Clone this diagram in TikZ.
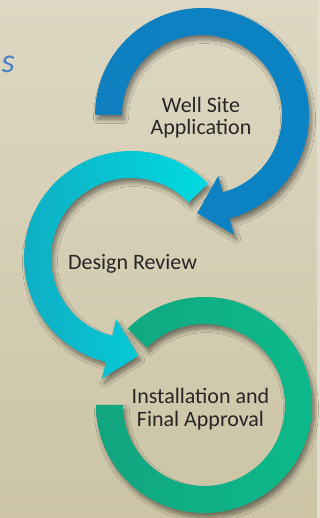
\documentclass[tikz,border=0pt]{standalone}
\usepackage{fontspec}
\setmainfont{Carlito}
\usetikzlibrary{calc,shadows.blur}
\definecolor{bgtop}{HTML}{DDD8C3}
\definecolor{bgbot}{HTML}{CCC4A5}
\definecolor{bgedge}{HTML}{E2DECD}
\definecolor{blueL}{HTML}{0F7FC0}
\definecolor{blueM}{HTML}{05A2E2}
\definecolor{blueR}{HTML}{0A84C4}
\definecolor{cyanL}{HTML}{10ACC2}
\definecolor{cyanR}{HTML}{00DAE2}
\definecolor{greenL}{HTML}{12A57F}
\definecolor{greenM}{HTML}{00D49B}
\definecolor{greenR}{HTML}{0CBA8A}
\definecolor{txt}{HTML}{262626}
\definecolor{titleblue}{HTML}{4A7EC8}
\begin{document}
\begin{tikzpicture}[x=1pt,y=1pt,
  ringshadow/.style={blur shadow={shadow xshift=2.5pt,shadow yshift=-4.5pt,shadow blur radius=4pt,shadow opacity=45,shadow blur steps=10}},
  lbl/.style={text=txt,align=center,font=\fontsize{22}{22.5}\selectfont,inner sep=0pt}]
\useasboundingbox (0,0) rectangle (320,518);
\fill[top color=bgtop,bottom color=bgbot] (0,0) rectangle (320,518);
\fill[bgedge] (317,0) rectangle (320,518);

\coordinate (cb) at (202,403);
\coordinate (cc) at (131,260);
\coordinate (cg) at (204,113);

% green ring
\path[ringshadow,left color=greenL,middle color=greenM,right color=greenR]
  ($(cg)+(180:108pt)$) arc[start angle=180,end angle=495,radius=108pt]
  -- ($(cg)+(135:81pt)$) arc[start angle=135,end angle=-180,radius=81pt] -- cycle;

% cyan ring with arrow
\path[ringshadow,left color=cyanL,right color=cyanR]
  ($(cc)+(44:107pt)$) arc[start angle=44,end angle=256.5,radius=107pt]
  -- ($(cc)+(256.5:124pt)$)
  -- ($(cc)+(256.5:93.5pt)+(346.5:30pt)$)
  -- ($(cc)+(256.5:63pt)$)
  -- ($(cc)+(256.5:80pt)$) arc[start angle=256.5,end angle=44,radius=80pt] -- cycle;

% blue ring with arrow
\path[ringshadow,left color=blueL,middle color=blueM,right color=blueR]
  ($(cb)+(180:107pt)$) arc[start angle=180,end angle=-75,radius=107pt]
  -- ($(cb)+(-75:124pt)$)
  -- ($(cb)+(-75:93.5pt)+(-165:30pt)$)
  -- ($(cb)+(-75:63pt)$)
  -- ($(cb)+(-75:80pt)$) arc[start angle=-75,end angle=180,radius=80pt] -- cycle;

\node[lbl] (t1) at (201,400.5) {Well Site\\Application};
\node[lbl] (t2) at (132.5,254) {Design Review};
\node[lbl] (t3) at (200.5,109) {Installation and\\Final Approval};
\node[text=titleblue,font=\itshape\fontsize{34}{34}\selectfont,anchor=base west,inner sep=0pt] (ts) at (1.5,445) {s};
\end{tikzpicture}
\end{document}
